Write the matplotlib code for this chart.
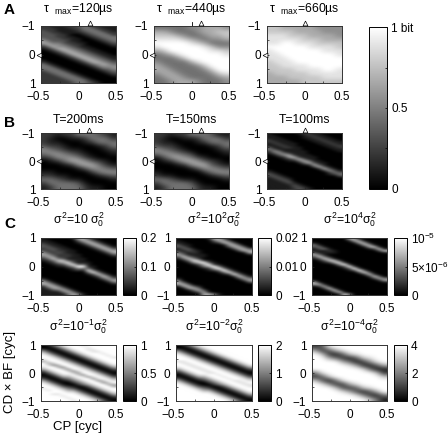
import numpy as np
import matplotlib
matplotlib.use("Agg")
import matplotlib.pyplot as plt
from matplotlib.transforms import ScaledTranslation

plt.rcParams['font.family'] = ['Liberation Sans', 'DejaVu Sans']
plt.rcParams['mathtext.fontset'] = 'custom'
plt.rcParams['mathtext.rm'] = 'Liberation Sans'
plt.rcParams['mathtext.it'] = 'Liberation Sans'
plt.rcParams['mathtext.bf'] = 'Liberation Sans:bold'
plt.rcParams['mathtext.fallback'] = 'stixsans'

W, H = 448, 438

# grey level, 0-9, one string per CP column, cells run along CD
tau120 = ["22333 34564 21000 00124 44322 2222", "22233 33456 42100 00012 44432 2222", "12223 33345 64210 00001 24443 2222",
          "11122 23345 56421 00000 12444 3222", "11112 22334 56642 10000 01244 4322", "21111 12223 45664 21000 00124 4432",
          "22110 11122 34566 42100 00012 4443", "32210 01112 23456 64210 00001 2444", "44321 00011 12345 66421 00000 1244",
          "44432 10000 11234 56642 10000 0123", "24443 21000 01123 45664 21000 0012", "22444 32100 00112 34565 42100 0001",
          "12244 43210 00011 23456 54210 0000", "11224 44321 00001 12345 54321 0000", "11122 44432 10000 11234 55432 1000"]
tau440 = ["467898644566544", "467899754456654", "457899964445665", "446899985444566", "445799997444456",
          "544689999644446", "554579999854445", "665468999975444", "666547899997544", "676545899999754",
          "577645789999865"]
tau660 = ["778889888777666", "778889988877766", "678899998887766", "677899999887776", "667889999988776",
          "667789999988777", "666788999998877", "566778999998877", "556678899999887", "556678899999887",
          "555677889998887"]
t200 = ["222354200012421", "211245310012442", "101235520001344", "200124541001244", "210013562000144",
        "410012465100134", "421001256300012", "442000136520001", "344100024541001", "244210012452000",
        "124421001353100"]
t150 = ["222354100012421", "211245310001442", "101235520001344", "200124641000244", "210013562000144",
        "410002465100134", "421000256300012", "442000136520001", "344100023541001", "144210012452000",
        "124421001353100"]
t100 = ["11122 11342 10000 00001 23211 1111", "01112 21135 31000 00000 12321 1111", "00111 22114 53100 00000 01232 1111",
        "00011 12211 45210 00000 00123 2111", "00001 11211 26621 00000 00012 3211", "00000 11111 12641 00000 00000 1232",
        "10000 00111 11264 10000 00000 0123", "21100 00001 11136 41000 00000 0012", "22110 00000 01114 62000 00000 0001",
        "12211 00000 00111 36300 00000 0000", "11221 10000 00001 13620 00000 0000", "01122 11000 00000 11362 00000 0000",
        "00112 21100 00000 00135 21000 0000", "00011 22110 00000 00013 42000 0000", "00001 12211 00000 00001 34200 0000"]
s10 = ["11233 23564 21000 00000 14662 1111", "01123 32356 42100 00000 01466 3111", "00112 33235 74210 00000 00146 6311",
       "00011 22322 47521 00000 00014 6411", "00001 12222 37631 00000 00001 4641", "00000 11122 13863 10000 00000 1464",
       "10000 01111 12385 21000 00000 0146", "63100 00011 11139 52000 00000 0014", "66310 00000 11149 41000 00000 0001",
       "36631 00000 00111 48410 00000 0000", "13663 10000 00001 14831 00000 0000", "01366 31000 00000 01473 10000 0000",
       "00136 63100 00000 00147 41000 0000", "00013 66310 00000 00014 64100 0000", "00001 36631 00000 00001 36410 0000"]
s100 = ["01133 12463 10000 00000 14661 0000", "00113 31247 41000 00000 00366 1000", "00011 33114 74100 00000 00036 6100",
        "00000 12212 58510 00000 00003 6410", "00000 01111 27731 00000 00001 4630", "00000 00011 02964 10000 00000 0366",
        "10000 00000 01396 21000 00000 0016", "63100 00000 00129 62000 00000 0004", "66200 00000 00014 94100 00000 0001",
        "36610 00000 00001 49410 00000 0000", "03663 00000 00000 14820 00000 0000", "00366 30000 00000 01482 00000 0000",
        "00036 63000 00000 00147 30000 0000", "00003 66100 00000 00014 63000 0000", "00000 36610 00000 00001 46300 0000"]
s1e4 = ["00143 11363 10000 00000 01661 0000", "00014 31147 31000 00000 00163 0000", "00001 41114 73100 00000 00016 3000",
        "00000 12101 57200 00000 00001 7300", "00000 01100 17610 00000 00000 1730", "00000 00000 02851 00000 00000 0171",
        "00000 00000 00293 10000 00000 0017", "61000 00000 00029 31000 00000 0004", "66100 00000 00002 93000 00000 0000",
        "16610 00000 00000 29300 00000 0000", "01661 00000 00000 03820 00000 0000", "00166 10000 00000 00372 00000 0000",
        "00017 30000 00000 00027 30000 0000", "00001 73000 00000 00003 62000 0000", "00000 17100 00000 00000 46100 0000"]
s01 = ["00368 99869 98631 01368 99899 9999", "10136 89986 89863 10136 89989 9999", "31013 68997 59986 31013 68999 8999",
       "63101 36899 66998 63101 36899 8999", "86310 13689 95799 86310 13689 9899", "98631 01368 99579 86420 02468 9989",
       "99863 10136 89957 98642 01368 9998", "99986 31013 68985 79864 20136 8999", "89998 63101 36899 58986 41013 6899",
       "98899 86310 13689 95998 63101 3689", "99889 98631 01368 98599 86310 1368", "99989 99863 10136 89859 98631 0136",
       "99998 99986 31013 68975 99863 1013", "99999 89998 63101 36897 69986 3101", "99999 98999 86310 13689 66998 6310"]
s001 = ["00368 99989 98631 01368 99999 9999", "10136 89988 99863 10136 89999 9999", "31013 68998 89986 31013 68999 9999",
        "63101 36899 88998 63101 36899 9999", "86310 13689 98899 86310 13689 9999", "98631 01368 99889 86420 02468 9999",
        "99863 10136 89988 98642 01368 9999", "99986 31013 68998 99864 20136 8999", "99998 63101 36899 89986 41013 6899",
        "99999 86310 13689 98998 63101 3689", "99999 98631 01368 99899 86310 1368", "99999 99863 10136 89989 98631 0136",
        "99999 99986 31013 68988 99863 1013", "99999 99998 63101 36898 89986 3101", "99999 99999 86310 13689 88998 6310"]
s1e4i = ["269999942799999", "327999983389999", "832699997159999", "961499999427999", "983269999823899",
         "997148999962699", "998316999983389", "999722899997159", "999851499998327", "999983179999614",
         "999996127999941"]

x_ticks = [-0.5, -0.25, 0, 0.25, 0.5]
y_ticks = [-1, -0.5, 0, 0.5, 1]

titles_a = [r"$\tau\ \ _{max}$=120µs", r"$\tau\ \ _{max}$=440µs", r"$\tau\ \ _{max}$=660µs"]
titles_b = ["T=200ms", "T=150ms", "T=100ms"]
titles_c1 = [r"$\sigma^2$=10 $\sigma_0^2$", r"$\sigma^2$=10$^2$$\sigma_0^2$", r"$\sigma^2$=10$^4$$\sigma_0^2$"]
titles_c2 = [r"$\sigma^2$=10$^{-1}$$\sigma_0^2$", r"$\sigma^2$=10$^{-2}$$\sigma_0^2$", r"$\sigma^2$=10$^{-4}$$\sigma_0^2$"]

cp_best_a = [0.15, 0.12, 0.0]
cp_best_b = [0.14, 0.13, 0.0]

bar_max_c1 = [0.2, 0.02, 1e-5]
bar_ticks_c1 = [[0, 0.1, 0.2], [0, 0.01, 0.02], [0, 5e-6, 1e-5]]
bar_labels_c1 = [["0", "0.1", "0.2"], ["0", "0.01", "0.02"], ["0", r"5$\times$10$^{-6}$", r"10$^{-5}$"]]
bar_max_c2 = [1, 2, 4]
bar_ticks_c2 = [[0, 0.5, 1], [0, 1, 2], [0, 2, 4]]
bar_labels_c2 = [["0", "0.5", "1"], ["0", "1", "2"], ["0", "2", "4"]]

fig = plt.figure(figsize=(W / 100, H / 100), dpi=100)


def box(x0, y0, x1, y1):
    # pixel box from the top left corner of the picture
    return fig.add_axes([x0 / W, 1 - y1 / H, (x1 - x0) / W, (y1 - y0) / H])


def cells(cols):
    return np.array([[int(c) for c in s.replace(" ", "")] for s in cols]).T / 9.0


def panel(pos, cols, vmax, flip):
    ax = box(*pos)
    ext = [-0.5, 0.5, 1, -1] if flip else [-0.5, 0.5, -1, 1]
    im = ax.imshow(cells(cols) * vmax, cmap='gray', vmin=0, vmax=vmax, extent=ext, aspect='auto',
                   interpolation='bicubic', origin='upper')
    ax.set_xlim(-0.5, 0.5)
    ax.set_ylim(1, -1) if flip else ax.set_ylim(-1, 1)
    ax.set_xticks(x_ticks)
    ax.set_xticklabels(["\u22120.5", "", "0", "", "0.5"])
    ax.set_yticks(y_ticks)
    ax.set_yticklabels(["\u22121", "", "0", "", "1"])
    ax.tick_params(direction='in', length=1.5, width=0.5, labelsize=8.5, color='#222222')
    ax.tick_params(axis='x', pad=5.5)
    ax.tick_params(axis='y', pad=4)
    # the minus sign hangs out to the left in the original
    lab = ax.get_xticklabels()[0]
    lab.set_transform(lab.get_transform() + ScaledTranslation(-3 / 100, 0, fig.dpi_scale_trans))
    for s in ax.spines.values():
        s.set_linewidth(0.7)
        s.set_color('#333333')
    return ax, im


def bar(pos, im, ticks, labels, minor=None):
    cax = box(*pos)
    cb = fig.colorbar(im, cax=cax)
    cb.set_ticks(ticks)
    cb.set_ticklabels(labels)
    cb.ax.tick_params(direction='in', length=1.5, width=0.5, labelsize=8.5, pad=3)
    cb.outline.set_linewidth(0.7)
    if minor is not None:
        cb.ax.set_yticks(minor, minor=True)
        cb.ax.tick_params(which='minor', direction='in', length=1.5, width=0.5)
    return cb


def carets(ax, cp, top_tick):
    ax.plot([cp], [-1.09], marker='^', ms=3.5, mfc='white', mec='black', mew=0.5, clip_on=False, zorder=5)
    ax.plot([-0.525], [0], marker='<', ms=3.5, mfc='white', mec='black', mew=0.5, clip_on=False, zorder=5)
    if top_tick:
        ax.plot([0, 0], [-1, -1.14], color='black', lw=0.6, clip_on=False)


col_x = [(41, 116), (154, 229), (267, 342)]
grids_a = [tau120, tau440, tau660]
grids_b = [t200, t150, t100]
for i in range(3):
    x0, x1 = col_x[i]
    ax, im = panel((x0, 26, x1, 83), grids_a[i], 1, True)
    carets(ax, cp_best_a[i], i < 2)
    fig.text((x0 + x1) / 2 / W, 1 - 9 / H, titles_a[i], ha='center', va='center', fontsize=8.8)
    ax, im = panel((x0, 133, x1, 189), grids_b[i], 1, True)
    carets(ax, cp_best_b[i], i < 2)
    fig.text((x0 + x1) / 2 / W, 1 - 120 / H, titles_b[i], ha='center', va='center', fontsize=8.8)

bar((369, 27, 387, 189), im, [0, 0.5, 1], ["0", "0.5", "1 bit"], minor=[0.25, 0.75])

col_c = [(41, 116), (176, 252), (312, 387)]
bar_c = [(123, 136), (258, 271), (394, 407)]
grids_c1 = [s10, s100, s1e4]
grids_c2 = [s01, s001, s1e4i]
for i in range(3):
    x0, x1 = col_c[i]
    ax, im = panel((x0, 238, x1, 295), grids_c1[i], bar_max_c1[i], False)
    bar((bar_c[i][0], 238, bar_c[i][1], 295), im, bar_ticks_c1[i], bar_labels_c1[i])
    fig.text((x0 + x1) / 2 / W, 1 - 220 / H, titles_c1[i], ha='center', va='center', fontsize=8.8)
    ax, im = panel((x0, 345, x1, 401), grids_c2[i], bar_max_c2[i], False)
    bar((bar_c[i][0], 345, bar_c[i][1], 401), im, bar_ticks_c2[i], bar_labels_c2[i])
    fig.text((x0 + x1) / 2 / W, 1 - 327 / H, titles_c2[i], ha='center', va='center', fontsize=8.8)

fig.text(10 / W, 1 - 372 / H, "CD \u00d7 BF [cyc]", rotation=90, ha='center', va='center', fontsize=9.5)
fig.text(78 / W, 1 - 427 / H, "CP [cyc]", ha='center', va='center', fontsize=9.5)

fig.text(4 / W, 1 - 10 / H, "A", fontweight='bold', fontsize=11, ha='left', va='center')
fig.text(4 / W, 1 - 123 / H, "B", fontweight='bold', fontsize=11, ha='left', va='center')
fig.text(4 / W, 1 - 224 / H, "C", fontweight='bold', fontsize=11, ha='left', va='center')

fig.savefig('out.png', dpi=100)
